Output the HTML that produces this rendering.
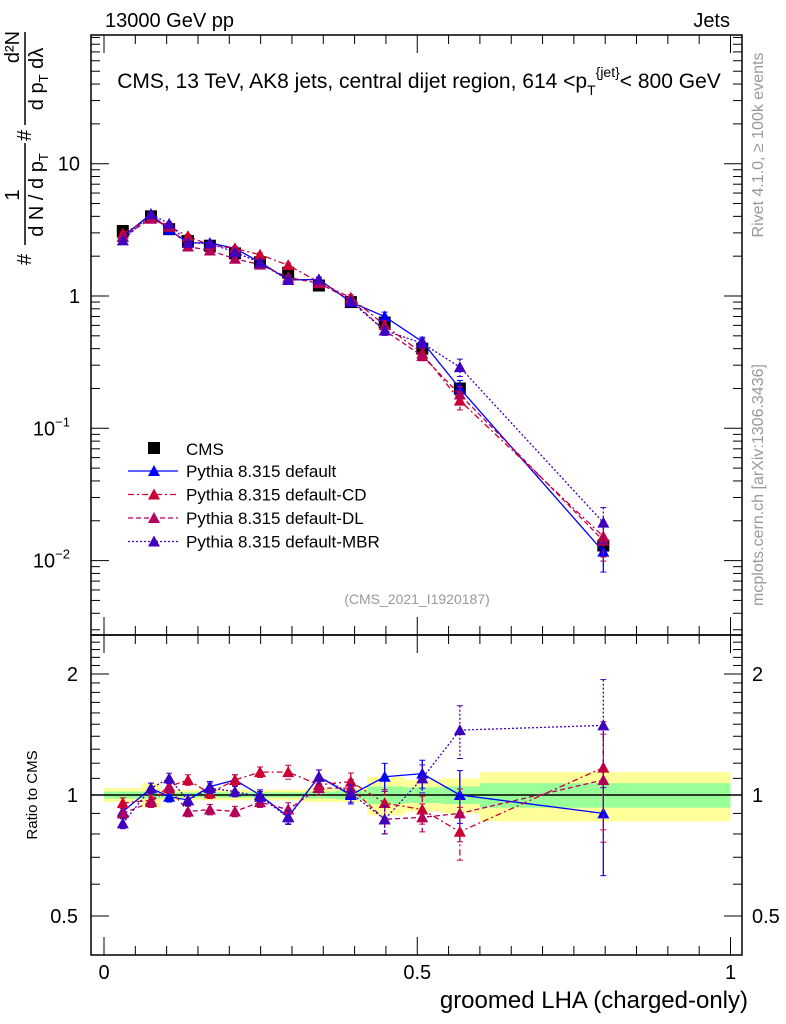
<!DOCTYPE html>
<html><head><meta charset="utf-8"><style>
body{margin:0;background:#fff;}
svg{display:block;font-family:"Liberation Sans",sans-serif;}
</style></head><body>
<svg id="c" width="786" height="1024" viewBox="0 0 786 1024">
<g id="bands"></g>
<g id="axes"></g>
<g id="series"></g>
<text x="105" y="27" font-size="20">13000 GeV pp</text>
<text x="730" y="27" font-size="20" text-anchor="end">Jets</text>
<text x="419" y="88" font-size="21" text-anchor="middle">CMS, 13 TeV, AK8 jets, central dijet region, 614 &lt;p<tspan font-size="14" dy="7">T</tspan><tspan font-size="14" dy="-18">{jet}</tspan><tspan dy="11">&lt; 800 GeV</tspan></text>
<text x="417" y="604" font-size="14" fill="#999" text-anchor="middle">(CMS_2021_I1920187)</text>
<text transform="translate(763,145) rotate(-90)" font-size="16" fill="#999" text-anchor="middle">Rivet 4.1.0, ≥ 100k events</text>
<text transform="translate(763,485) rotate(-90)" font-size="16" fill="#999" text-anchor="middle">mcplots.cern.ch [arXiv:1306.3436]</text>
<g transform="translate(3,280) rotate(-90)" font-size="20">
<text x="15" y="28">#</text>
<text x="85" y="16" text-anchor="middle">1</text>
<line x1="35" x2="137" y1="22" y2="22" stroke="#000" stroke-width="1.5"/>
<text x="85" y="40" text-anchor="middle">d N / d p<tspan font-size="13" dy="5">T</tspan></text>
<text x="139" y="28">#</text>
<text x="233" y="16" text-anchor="middle">d²N</text>
<line x1="155" x2="248" y1="22" y2="22" stroke="#000" stroke-width="1.5"/>
<text x="201" y="40" text-anchor="middle">d p<tspan font-size="13" dy="5">T</tspan><tspan dy="-5"> dλ</tspan></text>
</g>
<text transform="translate(37,795) rotate(-90)" font-size="15" text-anchor="middle">Ratio to CMS</text>
<text x="748" y="1008" font-size="24" text-anchor="end">groomed LHA (charged-only)</text>
<g id="legend"></g>
</svg>
<script>
const xCenters=[0.030,0.075,0.104,0.134,0.169,0.209,0.249,0.294,0.343,0.394,0.448,0.508,0.568,0.797];
const binEdges=[0,0.06,0.09,0.12,0.15,0.19,0.23,0.27,0.32,0.37,0.42,0.48,0.54,0.6,1.0];
const cmsValues=[3.1,4.0,3.2,2.6,2.4,2.1,1.8,1.5,1.2,0.9,0.63,0.40,0.20,0.013];
const statBand=[0.02,0.02,0.015,0.015,0.015,0.015,0.015,0.015,0.02,0.025,0.05,0.045,0.05,0.07];
const totBand=[0.04,0.07,0.03,0.03,0.03,0.03,0.03,0.03,0.04,0.04,0.11,0.09,0.1,0.14];
const ratioDefault=[0.909,1.039,0.99,0.972,1.049,1.09,1.0,0.883,1.11,1.0,1.11,1.13,1.0,0.9];
const ratioCD=[0.955,0.97,1.05,1.09,1.01,1.09,1.14,1.14,1.06,1.08,0.955,0.92,0.81,1.17];
const ratioDL=[0.90,0.96,1.04,0.91,0.92,0.91,0.96,0.92,1.04,1.04,0.87,0.88,0.90,1.09];
const ratioMBR=[0.85,1.04,1.10,0.97,1.04,1.02,0.99,0.88,1.11,1.01,0.87,1.10,1.45,1.49];
const relErr=[0.03,0.03,0.03,0.03,0.03,0.03,0.03,0.04,0.04,0.05,0.08,0.08,0.15,0.3];
const ratioTicks=[0.5,1,2];
const mainTicks=[0.01,0.1,1,10];
const NS='http://www.w3.org/2000/svg';
const X=v=>104+v*626.5;
const Y=v=>296-Math.log10(v)*132.3;
const R=v=>795-Math.log10(v)*402;
function el(t,a,p){const e=document.createElementNS(NS,t);for(const k in a)e.setAttribute(k,a[k]);(p||document.getElementById('c')).appendChild(e);return e;}
const bands=document.getElementById('bands'),axes=document.getElementById('axes'),ser=document.getElementById('series'),leg=document.getElementById('legend');
for(let i=0;i<xCenters.length;i++){
 const x0=X(binEdges[i]),x1=X(binEdges[i+1]);
 const y=el('rect',{x:x0,y:R(1+totBand[i]),width:x1-x0,height:R(1-totBand[i])-R(1+totBand[i]),fill:'#ffff99'},bands);
 
 
 const g=el('rect',{x:x0,y:R(1+statBand[i]),width:x1-x0,height:R(1-statBand[i])-R(1+statBand[i]),fill:'#99ff99'},bands);
 
 
}
el('rect',{x:91,y:35,width:651,height:600,fill:'none',stroke:'#000','stroke-width':1.5},axes);
el('rect',{x:91,y:635,width:651,height:320,fill:'none',stroke:'#000','stroke-width':1.5},axes);
el('line',{x1:91,x2:742,y1:R(1),y2:R(1),stroke:'#000','stroke-width':1.5},axes);
for(let d=-3;d<=1;d++){for(let m=1;m<10;m++){const v=m*Math.pow(10,d);const y=Y(v);if(y<35||y>635)continue;const L=m==1?18:9;
el('line',{x1:91,x2:91+L,y1:y,y2:y,stroke:'#000'},axes);el('line',{x1:742,x2:742-L,y1:y,y2:y,stroke:'#000'},axes);}}
const mainLbl=['10<tspan font-size="13" dy="-9">−2</tspan>','10<tspan font-size="13" dy="-9">−1</tspan>','1','10'];
mainTicks.forEach((v,i)=>{const t=el('text',{x:i<2?70:80,y:Y(v)+7,'font-size':20,'text-anchor':'end'},axes);t.innerHTML=mainLbl[i];

});
for(let v=0.4;v<=2.5;v+=0.1){const y=R(v);if(y<636||y>954)continue;const major=[0.5,1,2].some(q=>Math.abs(q-v)<1e-6);const L=major?18:9;
el('line',{x1:91,x2:91+L,y1:y,y2:y,stroke:'#000'},axes);el('line',{x1:742,x2:742-L,y1:y,y2:y,stroke:'#000'},axes);}
ratioTicks.forEach(v=>{const a=el('text',{x:78,y:R(v)+7,'font-size':20,'text-anchor':'end'},axes);a.textContent=v;


const b=el('text',{x:752,y:R(v)+7,'font-size':20},axes);b.textContent=v;

});
for(let k=0;k<=20;k++){const v=k*0.05;const x=X(v);const L=k%10==0?18:9;
[[35,1],[635,-1],[635,1],[955,-1]].forEach(([y0,s])=>el('line',{x1:x,x2:x,y1:y0,y2:y0+s*L,stroke:'#000'},axes));}
[0,0.5,1].forEach(v=>{const t=el('text',{x:X(v),y:979,'font-size':20,'text-anchor':'middle'},axes);t.textContent=v;

});
const models=[
 {name:'Pythia 8.315 default',r:ratioDefault,c:'#0000ff',dash:'',key:'default'},
 {name:'Pythia 8.315 default-CD',r:ratioCD,c:'#cc0033',dash:'6,3,2,3',key:'cd'},
 {name:'Pythia 8.315 default-DL',r:ratioDL,c:'#b3005a',dash:'5,3',key:'dl'},
 {name:'Pythia 8.315 default-MBR',r:ratioMBR,c:'#4000c0',dash:'2,2',key:'mbr'}];
function tri(g,x,y,c){el('polygon',{points:`${x},${y-6} ${x-6},${y+5} ${x+6},${y+5}`,fill:c},g);}
const cg=el('g',{},ser);


xCenters.forEach((x,i)=>{el('rect',{x:X(x)-6,y:Y(cmsValues[i])-6,width:12,height:12,fill:'#000'},cg);});
models.forEach(m=>{
 const g=el('g',{},ser);
 
 
 const vals=cmsValues.map((v,i)=>v*m.r[i]);
 el('polyline',{points:xCenters.map((x,i)=>X(x)+','+Y(vals[i])).join(' '),fill:'none',stroke:m.c,'stroke-width':1.3,'stroke-dasharray':m.dash},g);
 el('polyline',{points:xCenters.map((x,i)=>X(x)+','+R(m.r[i])).join(' '),fill:'none',stroke:m.c,'stroke-width':1.3,'stroke-dasharray':m.dash},g);
 xCenters.forEach((x,i)=>{const e=relErr[i];
  [[Y(vals[i]*(1+e)),Y(vals[i]*(1-e))],[R(m.r[i]*(1+e)),R(m.r[i]*(1-e))]].forEach(([a,b])=>{
   el('line',{x1:X(x),x2:X(x),y1:a,y2:b,stroke:m.c,'stroke-width':1.3,'stroke-dasharray':m.dash},g);
   el('line',{x1:X(x)-3,x2:X(x)+3,y1:a,y2:a,stroke:m.c},g);el('line',{x1:X(x)-3,x2:X(x)+3,y1:b,y2:b,stroke:m.c},g);});
  tri(g,X(x),Y(vals[i]),m.c);tri(g,X(x),R(m.r[i]),m.c);});
});
el('rect',{x:148,y:442,width:12,height:12,fill:'#000'},leg);
const lt=el('text',{x:186,y:455,'font-size':17},leg);lt.textContent='CMS';
models.forEach((m,i)=>{const y=471+i*23.5;
 el('line',{x1:128,x2:178,y1:y,y2:y,stroke:m.c,'stroke-width':1.3,'stroke-dasharray':m.dash},leg);
 tri(leg,154,y,m.c);
 const t=el('text',{x:186,y:y+6,'font-size':17},leg);t.textContent=m.name;
 
 });
</script>
</body></html>
